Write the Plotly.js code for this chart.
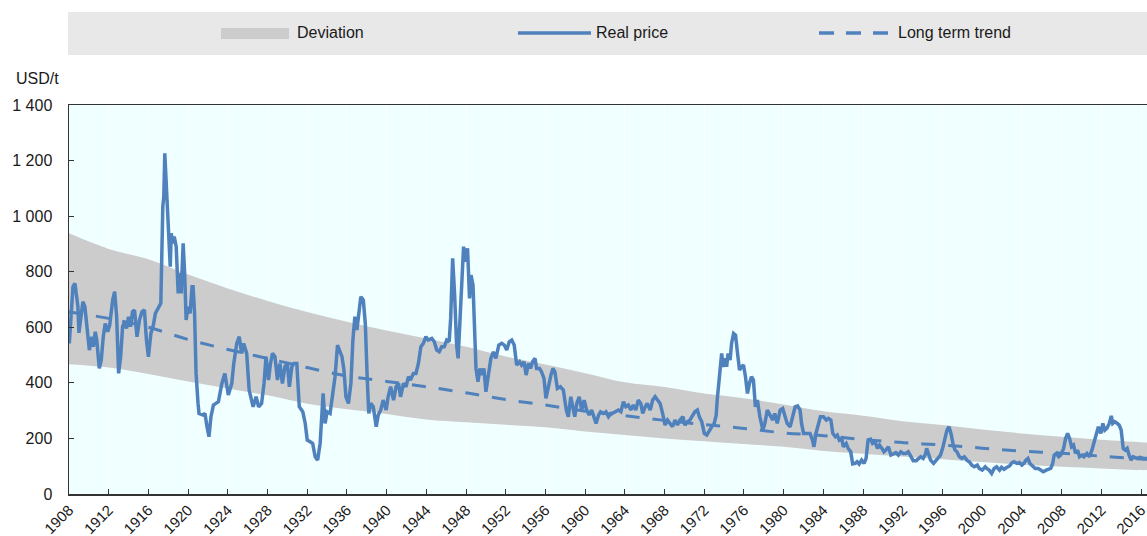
<!DOCTYPE html>
<html>
<head>
<meta charset="utf-8">
<script src="https://cdn.plot.ly/plotly-3.0.1.min.js"></script>
<style>html,body{margin:0;padding:0;background:#fff;}#chart{width:1147px;height:536px;}</style>
</head>
<body>
<div id="chart"></div>
<script>
// Real price series (year as decimal, USD/t)
const years = [
1908.03,1908.2,1908.4,1908.6,1908.9,1909.0,1909.2,1909.4,1909.6,1909.8,1910.05,1910.3,1910.45,1910.65,1910.8,1911.05,1911.25,1911.45,1911.65,1911.9,
1912.1,1912.4,1912.6,1912.8,1913.0,1913.2,1913.4,1913.6,1913.8,1914.0,1914.2,1914.4,1914.6,1914.85,1915.1,1915.35,1915.6,1915.8,1916.0,1916.25,
1916.5,1916.7,1917.0,1917.25,1917.45,1917.55,1917.65,1917.75,1917.9,1918.05,1918.2,1918.3,1918.45,1918.6,1918.8,1919.0,1919.2,1919.3,1919.5,1919.65,
1919.8,1920.0,1920.2,1920.4,1920.5,1920.65,1920.8,1921.0,1921.1,1921.5,1921.7,1921.9,1922.1,1922.3,1922.55,1922.8,1923.05,1923.4,1923.7,1924.05,
1924.4,1924.6,1924.9,1925.15,1925.4,1925.6,1925.9,1926.15,1926.55,1926.85,1927.1,1927.4,1927.65,1927.85,1928.1,1928.3,1928.5,1928.75,1929.0,1929.25,
1929.5,1929.75,1930.0,1930.2,1930.45,1930.65,1930.95,1931.2,1931.55,1931.8,1932.0,1932.3,1932.55,1932.8,1933.05,1933.3,1933.45,1933.6,1933.8,1934.0,
1934.3,1934.55,1934.8,1935.05,1935.25,1935.5,1935.7,1935.9,1936.15,1936.4,1936.6,1936.8,1937.0,1937.2,1937.4,1937.65,1937.85,1938.05,1938.2,1938.4,
1938.65,1938.95,1939.15,1939.4,1939.65,1939.95,1940.15,1940.4,1940.7,1940.95,1941.2,1941.4,1941.7,1941.95,1942.2,1942.4,1942.7,1942.95,1943.2,1943.45,
1943.7,1943.95,1944.2,1944.55,1944.8,1945.05,1945.3,1945.55,1945.8,1946.05,1946.3,1946.45,1946.65,1946.85,1947.05,1947.2,1947.4,1947.55,1947.75,1947.95,
1948.15,1948.35,1948.5,1948.7,1948.85,1949.0,1949.2,1949.4,1949.6,1949.8,1950.0,1950.25,1950.5,1950.75,1951.0,1951.3,1951.6,1951.85,1952.1,1952.35,
1952.6,1952.85,1953.1,1953.4,1953.6,1953.85,1954.05,1954.3,1954.5,1954.7,1954.95,1955.1,1955.4,1955.6,1955.85,1956.05,1956.3,1956.55,1956.75,1956.95,
1957.2,1957.5,1957.8,1958.1,1958.3,1958.55,1958.75,1958.95,1959.15,1959.4,1959.65,1959.9,1960.15,1960.4,1960.65,1960.9,1961.1,1961.35,1961.55,1961.85,
1962.1,1962.35,1962.6,1962.85,1963.1,1963.35,1963.6,1963.85,1964.1,1964.35,1964.6,1964.85,1965.1,1965.35,1965.6,1965.8,1966.05,1966.25,1966.55,1966.8,
1967.05,1967.3,1967.55,1967.8,1968.05,1968.3,1968.55,1968.8,1969.05,1969.3,1969.55,1969.85,1970.05,1970.3,1970.55,1970.85,1971.05,1971.3,1971.5,1971.75,
1972.0,1972.25,1972.5,1972.75,1973.0,1973.2,1973.3,1973.5,1973.75,1973.9,1974.1,1974.25,1974.4,1974.6,1974.75,1974.95,1975.15,1975.35,1975.55,1975.75,
1975.95,1976.15,1976.35,1976.55,1976.75,1976.95,1977.15,1977.35,1977.6,1977.9,1978.1,1978.35,1978.6,1978.9,1979.1,1979.35,1979.65,1979.9,1980.15,1980.35,
1980.65,1980.9,1981.15,1981.4,1981.65,1981.8,1982.0,1982.3,1982.65,1982.9,1983.05,1983.25,1983.5,1983.7,1984.0,1984.3,1984.5,1984.75,1984.95,1985.2,
1985.4,1985.6,1985.85,1986.0,1986.3,1986.5,1986.75,1986.95,1987.2,1987.4,1987.6,1987.85,1988.1,1988.3,1988.5,1988.75,1988.95,1989.2,1989.45,1989.65,
1989.9,1990.1,1990.3,1990.55,1990.8,1991.05,1991.3,1991.55,1991.8,1992.05,1992.3,1992.55,1992.8,1993.05,1993.35,1993.55,1993.8,1994.05,1994.3,1994.4,
1994.6,1994.8,1995.1,1995.35,1995.6,1995.8,1996.05,1996.25,1996.45,1996.65,1996.85,1997.05,1997.25,1997.45,1997.7,1997.95,1998.2,1998.45,1998.7,1998.95,
1999.2,1999.5,1999.7,2000.0,2000.3,2000.45,2000.7,2000.95,2001.2,2001.45,2001.75,2001.95,2002.2,2002.5,2002.75,2003.0,2003.2,2003.5,2003.75,2004.0,
2004.2,2004.4,2004.6,2004.8,2005.1,2005.35,2005.65,2005.9,2006.15,2006.45,2006.7,2006.9,2007.1,2007.25,2007.45,2007.7,2007.9,2008.2,2008.4,2008.6,
2008.8,2009.0,2009.2,2009.4,2009.6,2009.8,2010.05,2010.25,2010.55,2010.8,2011.05,2011.3,2011.5,2011.7,2011.95,2012.15,2012.35,2012.55,2012.8,2013.0,
2013.15,2013.35,2013.6,2013.8,2014.0,2014.2,2014.4,2014.6,2014.8,2015.0,2015.2,2015.55,2015.9,2016.25,2016.6
];
const price = [
542,662,746,758,674,580,638,692,674,602,518,566,530,584,554,452,482,566,614,584,
608,698,728,638,434,494,602,620,596,638,602,656,662,566,626,656,662,554,494,578,
608,650,668,686,1034,1070,1226,1142,1034,890,818,938,902,926,890,722,794,722,902,794,
626,674,650,746,746,650,434,326,290,284,290,242,206,278,320,326,332,398,434,356,
398,470,542,566,506,542,506,374,314,350,314,326,398,494,410,470,506,494,410,470,
398,458,470,386,458,470,470,314,296,254,194,188,182,134,122,182,278,362,254,296,
290,350,422,536,518,494,446,350,326,398,554,638,590,650,710,698,614,410,290,326,
314,242,284,302,338,302,350,386,338,386,398,350,398,386,422,410,434,434,470,530,
542,566,554,560,548,518,512,530,530,554,548,632,848,716,536,488,632,764,890,836,
884,704,788,752,632,452,404,452,428,452,368,428,488,512,488,536,542,536,518,548,
554,536,464,476,464,476,428,470,452,476,488,452,452,440,416,344,392,428,452,440,
380,386,374,302,278,350,314,278,326,350,302,338,302,284,302,278,254,284,296,290,
296,278,290,292,296,302,296,332,314,320,302,320,302,338,326,290,314,326,302,338,
350,338,326,290,248,266,254,242,266,248,266,278,248,260,266,284,296,302,278,260,
218,212,230,242,254,284,338,422,506,458,488,458,506,482,542,578,572,506,446,458,
464,422,362,398,422,410,314,338,278,230,254,302,284,266,290,254,302,308,278,254,
242,278,314,317,302,254,218,218,218,194,170,218,254,278,278,266,272,266,218,206,
212,194,200,170,182,164,152,108,110,116,108,122,110,128,194,197,182,188,164,176,
164,152,158,170,140,146,149,140,152,146,146,152,134,120,120,128,134,128,146,164,
140,122,110,120,134,140,170,206,230,242,218,182,158,152,134,128,134,122,116,104,
98,104,92,86,98,92,86,74,92,98,86,96,89,96,101,113,116,110,113,104,
110,122,128,110,98,92,92,86,80,86,89,92,110,140,146,134,140,164,200,218,
200,170,176,146,158,134,140,134,146,134,158,194,224,242,218,254,230,236,254,281,
254,260,254,248,230,164,158,164,140,122,134,128,132,128,128
];

// Long-term trend and deviation band, read at 4-year steps
const bandYears = [1908,1912,1916,1920,1924,1928,1932,1936,1940,1944,1948,1952,1956,1960,1964,1968,1972,1976,1980,1984,1988,1992,1996,2000,2004,2008,2012,2016,2016.6];
const trend     = [655,632,600,556,520,488,455,425,405,386,364,340,320,298,282,265,250,236,220,210,196,185,176,165,154,147,136,126,125];
const bandUpper = [938,882,845,790,740,695,655,620,588,560,530,495,466,435,402,385,362,345,322,298,282,262,248,232,218,206,195,186,185];
const bandLower = [467,455,432,405,380,355,325,305,288,268,258,249,240,225,212,200,190,180,170,155,145,135,125,115,105,98,92,86,86];

// Axis ticks
const xTickVals = [1908,1912,1916,1920,1924,1928,1932,1936,1940,1944,1948,1952,1956,1960,1964,1968,1972,1976,1980,1984,1988,1992,1996,2000,2004,2008,2012,2016];
const xTickText = xTickVals.map(String);
const yTickVals = [0,200,400,600,800,1000,1200,1400];
const yTickText = ['0','200','400','600','800','1 000','1 200','1 400'];

// Legend labels
const legendLabels = ['Deviation','Real price','Long term trend'];
const unitLabel = 'USD/t';

const FONT = 'Liberation Sans Narrow, Arial Narrow, Liberation Sans, Arial, sans-serif';
const BLUE = '#4f81bd';

const traces = [
  {x: bandYears, y: bandLower, type: 'scatter', mode: 'lines', line: {width: 0, shape: 'spline'}, showlegend: false, hoverinfo: 'skip'},
  {x: bandYears, y: bandUpper, type: 'scatter', mode: 'lines', line: {width: 0, shape: 'spline'}, fill: 'tonexty', fillcolor: '#cccccc', name: legendLabels[0], showlegend: false},
  {x: bandYears, y: trend, type: 'scatter', mode: 'lines', line: {color: BLUE, width: 3, dash: '14px,13px', shape: 'spline'}, name: legendLabels[2], showlegend: false},
  {x: years, y: price, type: 'scatter', mode: 'lines', line: {color: BLUE, width: 3.5}, name: legendLabels[1], showlegend: false}
];

// paper coordinate helpers for the legend strip (plot area: left 69, top 105, 1078 x 389)
const px = v => (v - 69) / 1078;
const py = v => (494 - v) / 389;

const layout = {
  width: 1147, height: 536,
  margin: {l: 69, r: 0, t: 105, b: 42},
  paper_bgcolor: '#ffffff',
  plot_bgcolor: '#f0ffff',
  font: {family: FONT, size: 16, color: '#1a1a1a'},
  showlegend: false,
  xaxis: {
    type: 'linear', range: [1908, 2016.6],
    tickmode: 'array', tickvals: xTickVals, ticktext: xTickText, tickangle: -45,
    ticks: 'inside', ticklen: 5, tickcolor: '#333', tickwidth: 1,
    ticklabeloverflow: 'allow',
    showgrid: true, gridcolor: '#ffffff', gridwidth: 1,
    zeroline: false, showline: true, linecolor: '#333', linewidth: 1.5, mirror: true,
    tickfont: {family: FONT, size: 15, color: '#1a1a1a'}
  },
  yaxis: {
    range: [0, 1400],
    tickmode: 'array', tickvals: yTickVals, ticktext: yTickText,
    ticks: 'inside', ticklen: 5, tickcolor: '#333', tickwidth: 1,
    showgrid: false, zeroline: false, showline: true, linecolor: '#333', linewidth: 1.5,
    tickfont: {family: FONT, size: 16, color: '#1a1a1a'},
    ticklabelstandoff: 12
  },
  shapes: [
    {type: 'rect', xref: 'paper', yref: 'paper', x0: px(68), x1: 1, y0: py(55), y1: py(12), fillcolor: '#e8e8e8', line: {width: 0}, layer: 'below'},
    {type: 'rect', xref: 'paper', yref: 'paper', x0: px(221), x1: px(289), y0: py(39), y1: py(28), fillcolor: '#cccccc', line: {width: 0}},
    {type: 'line', xref: 'paper', yref: 'paper', x0: px(518), x1: px(591), y0: py(33), y1: py(33), line: {color: BLUE, width: 3.5}},
    {type: 'line', xref: 'paper', yref: 'paper', x0: px(819), x1: px(892), y0: py(33), y1: py(33), line: {color: BLUE, width: 3.5, dash: '15px,12px'}}
  ],
  annotations: [
    {xref: 'paper', yref: 'paper', x: px(295), y: py(33), text: legendLabels[0], showarrow: false, xanchor: 'left', yanchor: 'middle', font: {family: FONT, size: 16, color: '#1a1a1a'}},
    {xref: 'paper', yref: 'paper', x: px(594), y: py(33), text: legendLabels[1], showarrow: false, xanchor: 'left', yanchor: 'middle', font: {family: FONT, size: 16, color: '#1a1a1a'}},
    {xref: 'paper', yref: 'paper', x: px(896), y: py(33), text: legendLabels[2], showarrow: false, xanchor: 'left', yanchor: 'middle', font: {family: FONT, size: 16, color: '#1a1a1a'}},
    {xref: 'paper', yref: 'paper', x: px(14), y: py(78), text: unitLabel, showarrow: false, xanchor: 'left', yanchor: 'middle', font: {family: FONT, size: 16, color: '#1a1a1a'}}
  ]
};

Plotly.newPlot('chart', traces, layout, {displayModeBar: false, staticPlot: true});
</script>
</body>
</html>
